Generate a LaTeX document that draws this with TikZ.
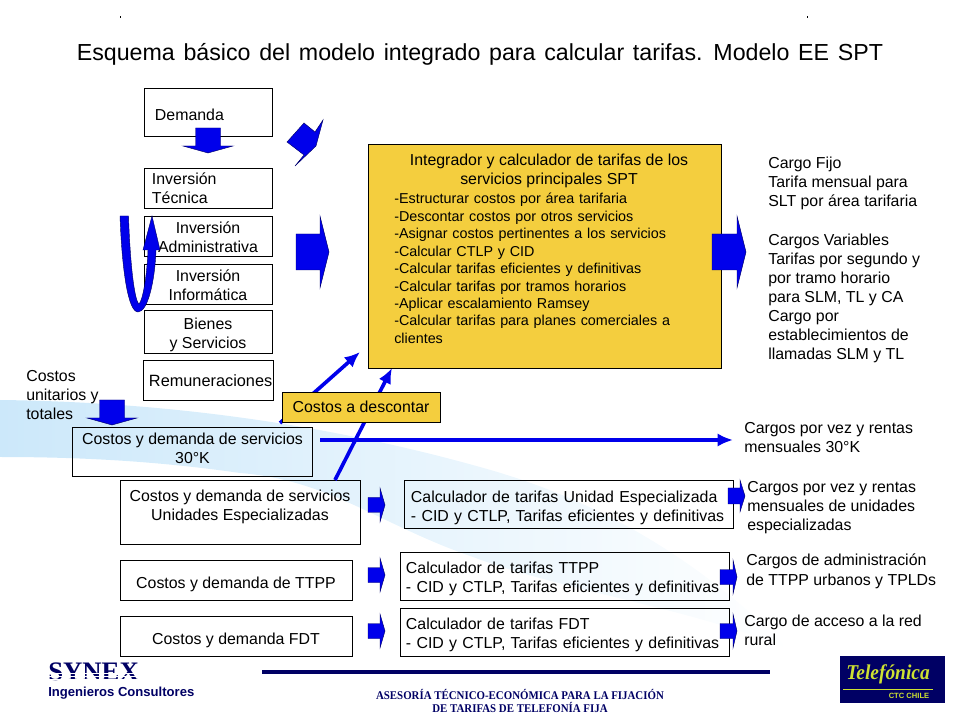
\documentclass[tikz,border=0pt]{standalone}
\usepackage{fontspec}
\setmainfont{Liberation Sans}
\newfontfamily\serifbold[FakeStretch=0.92]{Liberation Serif}
\newfontfamily\serifplain{Liberation Serif}
\newfontfamily\titlefont[WordSpace=1.35]{Liberation Sans}
\usetikzlibrary{positioning,calc,arrows.meta}
\definecolor{blockblue}{RGB}{0,0,235}
\definecolor{navyline}{RGB}{0,0,100}
\definecolor{swoosh}{RGB}{204,232,250}
\definecolor{amarillo}{RGB}{244,206,62}
\definecolor{limon}{RGB}{205,225,50}
\tikzset{
  box/.style={draw=black,line width=0.6pt,outer sep=0pt,align=center,inner sep=1pt},
  boxl/.style={box,align=left},
  amarillobox/.style={box,fill=amarillo},
  txt/.style={anchor=north west,align=left,inner sep=0pt},
  linea/.style={draw=blockblue,line width=2.6pt,-{Latex[length=11pt,width=9.5pt]}},
  block/.style={fill=blockblue,draw=navyline,line width=0.3pt}
}
\newcommand{\bajar}[1]{\rule{0pt}{#1}}
\newcommand{\rightblock}[6]{\path[block] (#1,#4-#5) -- (#2,#4-#5) -- (#2,#4-#6) -- (#3,#4) -- (#2,#4+#6) -- (#2,#4+#5) -- (#1,#4+#5) -- cycle;}
\newcommand{\downblock}[2]{\path[block] (#1-12.5,#2) -- (#1+12.5,#2) -- (#1+12.5,#2+18) -- (#1+25,#2+18) -- (#1,#2+25) -- (#1-25,#2+18) -- (#1-12.5,#2+18) -- cycle;}
\begin{document}
\begin{tikzpicture}[x=0.025cm,y=-0.025cm,font=\fontsize{11.3}{13.55}\selectfont]
\useasboundingbox (0,0) rectangle (960,720);
\shade[left color=swoosh,middle color=swoosh!97,right color=white] (0,400) .. controls (170,402) and (330,425) .. (480,467) .. controls (600,500) and (700,560) .. (790,650) .. controls (700,610) and (560,590) .. (473,557) .. controls (380,525) and (330,480) .. (240,473) .. controls (150,460) and (70,457) .. (0,457) -- cycle;
\fill (120,16) rectangle (121,18);
\fill (807,16) rectangle (808,18);
\node[inner sep=0pt,font=\titlefont\fontsize{16.5}{18}\selectfont] (titulo) at (480,54) {Esquema básico del modelo integrado para calcular tarifas. Modelo EE SPT};
\node[boxl,minimum width=3.2cm,minimum height=1.2cm,inner xsep=.275cm,text width=2.65cm] (demanda) at (208,112) {\bajar{12.3pt}Demanda};
\node[boxl,minimum width=3.2cm,minimum height=1cm,inner xsep=.2cm,text width=2.8cm] (tecnica) at (208,188) {Inversión\\Técnica};
\node[box,minimum width=3.2cm,minimum height=1cm] (admin) at (208,236) {\bajar{9.5pt}Inversión\\Administrativa};
\node[box,minimum width=3.2cm,minimum height=1cm] (informatica) at (208,284) {\bajar{9.5pt}Inversión\\Informática};
\node[box,minimum width=3.2cm,minimum height=1cm] (bienes) at (208,332) {\bajar{12.3pt}Bienes\\y Servicios};
\node[boxl,minimum width=3.2cm,minimum height=1cm,inner xsep=.15cm,text width=2.95cm] (remun) at (208,380) {\bajar{9.5pt}\fontsize{11.6}{13.55}\selectfont Remuneraciones};
\node[box,minimum width=6cm,minimum height=1.225cm] (k30) at (192.5,451.5) {Costos y demanda de servicios\\30°K\\[-9.5pt]~};
\node[box,minimum width=6cm,minimum height=1.6cm] (ue) at (240,512) {Costos y demanda de servicios\\Unidades Especializadas\\[-4.3pt]~};
\node[box,minimum width=5.8cm,minimum height=1cm] (ttpp) at (236,580) {\bajar{15pt}Costos y demanda de TTPP};
\node[box,minimum width=5.8cm,minimum height=1cm] (fdt) at (236,636) {\bajar{15pt}Costos y demanda FDT};
\node[boxl,minimum width=8.225cm,minimum height=1.2cm,inner xsep=.175cm,text width=7.875cm] (calcUe) at (568.5,504) {\bajar{13.5pt}Calculador de tarifas Unidad Especializada\\- CID y CTLP, Tarifas eficientes y definitivas};
\node[boxl,minimum width=8.225cm,minimum height=1.2cm,inner xsep=.15cm,text width=7.925cm] (calcTtpp) at (564.5,576) {\bajar{12.3pt}Calculador de tarifas TTPP\\- CID y CTLP, Tarifas eficientes y definitivas};
\node[boxl,minimum width=8.225cm,minimum height=1.2cm,inner xsep=.15cm,text width=7.925cm] (calcFdt) at (564.5,632) {\bajar{12.3pt}Calculador de tarifas FDT\\- CID y CTLP, Tarifas eficientes y definitivas};
\coordinate (descIni) at (280,423);
\coordinate (descFin) at (360,352);
\coordinate (ueIni) at (335,480);
\coordinate (ueFin) at (392,368);
\coordinate (k30Ini) at (320,440);
\coordinate (k30Fin) at (733,440);
\draw[linea] (descIni) -- (descFin);
\draw[linea] (ueIni) -- (ueFin);
\draw[linea] (k30Ini) -- (k30Fin);
\node[amarillobox,minimum width=3.95cm,minimum height=.75cm] (descontar) at (361,407) {Costos a descontar};
\node[amarillobox,minimum width=8.825cm,minimum height=5.6cm] (integrador) at (544.5,256) {};
\node[align=center,inner sep=0pt] (integradorT) at (549,170.5) {Integrador y calculador de tarifas de los\\servicios principales SPT};
\node[txt,text width=7.4cm,font=\fontsize{10.2}{12.4}\selectfont] (integradorL) at (394,193) {-Estructurar costos por área tarifaria\\-Descontar costos por otros servicios\\-Asignar costos pertinentes a los servicios\\-Calcular CTLP y CID\\-Calcular tarifas eficientes y definitivas\\-Calcular tarifas por tramos horarios\\-Aplicar escalamiento Ramsey\\-Calcular tarifas para planes comerciales a\\clientes};
\node[txt] (cargoFijo) at (768,157) {Cargo Fijo\\Tarifa mensual para\\SLT por área tarifaria\\~\\Cargos Variables\\Tarifas por segundo y\\por tramo horario\\para SLM, TL y CA\\Cargo por\\establecimientos de\\llamadas SLM y TL};
\node[txt] (unitarios) at (26,370) {Costos\\unitarios y\\totales};
\node[txt] (cargos30) at (744,422) {Cargos por vez y rentas\\mensuales 30°K};
\node[txt] (cargosUe) at (747,481) {Cargos por vez y rentas\\mensuales de unidades\\especializadas};
\node[txt] (cargosTtpp) at (746,554) {Cargos de administración\\de TTPP urbanos y TPLDs};
\node[txt] (cargosFdt) at (744,615) {Cargo de acceso a la red\\rural};
\downblock{208}{128}
\downblock{112}{400}
\path[block] (304,123) -- (315,132) -- (323,120) -- (316,146) -- (295,166) -- (304,155) -- (287,142) -- cycle;
\rightblock{296}{320}{329}{252}{18}{36}
\rightblock{712}{737}{746}{252}{18}{36}
\foreach \y in {505,575,631} {\rightblock{368}{380}{385}{\y}{7.5}{17}}
\rightblock{728}{740}{745}{496}{8}{16}
\rightblock{720}{733}{737}{577}{7.5}{17}
\rightblock{720}{733}{737}{631}{7.5}{17}
\path[block] (120,216) -- (128.5,216) .. controls (130,260) and (134,300) .. (139,304) .. controls (143,300) and (147,275) .. (148,250) -- (143,250) -- (152,216) -- (160,250) -- (156,250) .. controls (155,280) and (148,312) .. (138,312) .. controls (128,312) and (122,270) .. (120,216) -- cycle;
\fill[navyline] (262,670) rectangle (770,674);
\node[inner sep=0pt,align=center,text=navyline,font=\serifbold\bfseries\fontsize{8.4}{8.6}\selectfont] (asesoria) at (520,701) {ASESORÍA TÉCNICO-ECONÓMICA PARA LA FIJACIÓN\\DE TARIFAS DE TELEFONÍA FIJA};
\node[anchor=west,inner sep=0pt,text height=12.6pt,text depth=0pt,text=navyline,font=\serifplain\bfseries\fontsize{19}{20}\selectfont] (synex) at (48,672) {SYNEX};
\foreach \y in {673,676,679} {\draw[white,line width=0.5pt] (46,\y) -- (142,\y);}
\node[anchor=west,inner sep=0pt,text height=6.6pt,text depth=0pt,text=navyline,font=\bfseries\fontsize{9.3}{10}\selectfont] (ingenieros) at (48,692) {Ingenieros Consultores};
\node[fill=navyline,outer sep=0pt,inner sep=0pt,minimum width=2.625cm,minimum height=1.175cm] (logo) at (892.5,679.5) {};
\node[inner sep=0pt,text=limon,font=\serifbold\itshape\bfseries\fontsize{15}{16}\selectfont] (telefonica) at (888,674) {Telefónica};
\draw[limon,line width=0.6pt] (843,689) -- (933,689);
\node[inner sep=0pt,text=limon,font=\bfseries\fontsize{5.4}{6}\selectfont] (ctc) at (909,696) {CTC CHILE};
\end{tikzpicture}
\end{document}
